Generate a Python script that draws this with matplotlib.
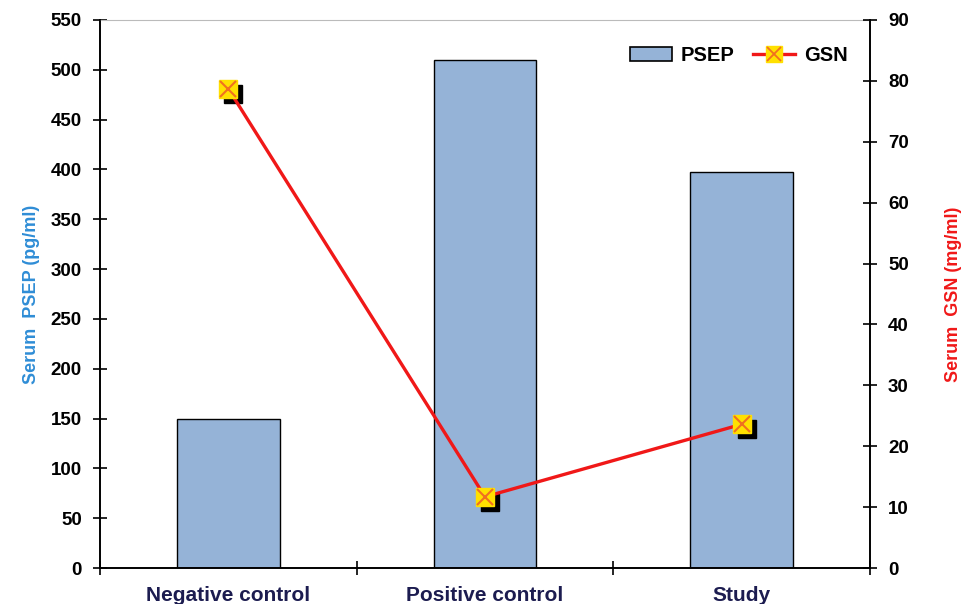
import matplotlib.pyplot as plt
import matplotlib.transforms as mtransforms
from matplotlib.lines import Line2D
from matplotlib.patches import Patch

plt.rcParams["font.family"] = ["Liberation Sans", "DejaVu Sans"]
plt.rcParams["font.weight"] = "bold"

groups = ["Negative control", "Positive control", "Study"]
psep = [150, 510, 397]
gsn = [78.7, 11.7, 23.6]

bar_blue = "#95B3D7"
line_red = "#F01818"
label_blue = "#2F8DD6"
marker_yellow = "#FFE000"
cross_orange = "#F07020"

fig = plt.figure(figsize=(9.64, 6.04), dpi=100)
ax = fig.add_axes([0.1037, 0.0596, 0.7988, 0.9073])
ax2 = ax.twinx()

x = range(len(groups))
ax.bar(x, psep, width=0.4, color=bar_blue, edgecolor="black", linewidth=1.0, zorder=2)

# GSN line, with a dropped shadow behind each marker
shadow = mtransforms.offset_copy(ax2.transData, fig=fig, x=3.6, y=-3.6, units="points")
ax2.plot(x, gsn, linestyle="none", marker="s", markersize=13, color="black",
         transform=shadow, zorder=3)
ax2.plot(x, gsn, color=line_red, linewidth=2.4, zorder=4)
ax2.plot(x, gsn, linestyle="none", marker="s", markersize=13,
         markerfacecolor=marker_yellow, markeredgecolor=marker_yellow, zorder=5)
ax2.plot(x, gsn, linestyle="none", marker="x", markersize=12, markeredgewidth=1.5,
         color=cross_orange, zorder=6)

ax.set_xlim(-0.5, 2.5)
ax.set_ylim(0, 550)
ax2.set_ylim(0, 90)
ax.set_yticks(range(0, 551, 50))
ax2.set_yticks(range(0, 91, 10))

ax.set_xticks(list(x))
ax.set_xticklabels(groups, fontsize=15, fontweight="bold", color="#1C1C50")
ax.set_xticks([-0.5, 0.5, 1.5, 2.5], minor=True)
ax.tick_params(axis="x", which="major", length=0, pad=13)
ax.tick_params(axis="x", which="minor", direction="inout", length=10, width=1.2)
ax.tick_params(axis="y", direction="inout", length=10, width=1.2, labelsize=13.5, pad=8)
ax2.tick_params(axis="y", direction="inout", length=10, width=1.2, labelsize=13.5, pad=8)

for a in (ax, ax2):
    for side in a.spines.values():
        side.set_linewidth(1.2)
    a.spines["top"].set_visible(False)
ax.spines["top"].set_visible(True)
ax.spines["top"].set_color("#BBBBBB")
ax.spines["top"].set_linewidth(0.8)

ax.set_ylabel("Serum  PSEP (pg/ml)", color=label_blue, fontsize=13, fontweight="bold", labelpad=8)
ax2.set_ylabel("Serum  GSN (mg/ml)", color=line_red, fontsize=13, fontweight="bold", labelpad=26)

psep_handle = Patch(facecolor=bar_blue, edgecolor="black", linewidth=1.2, label="PSEP")
gsn_handle = (
    Line2D([], [], color=line_red, linewidth=2.4, marker="s", markersize=11,
           markerfacecolor=marker_yellow, markeredgecolor=marker_yellow),
    Line2D([], [], linestyle="none", marker="x", markersize=10, markeredgewidth=1.3,
           color=cross_orange),
)
ax2.legend(handles=[psep_handle, gsn_handle], labels=["PSEP", "GSN"],
           loc="upper right", bbox_to_anchor=(0.995, 0.985), ncol=2,
           frameon=False, fontsize=14.5, handlelength=2.1, columnspacing=0.9,
           handletextpad=0.45)

fig.savefig("out.png", dpi=100)
